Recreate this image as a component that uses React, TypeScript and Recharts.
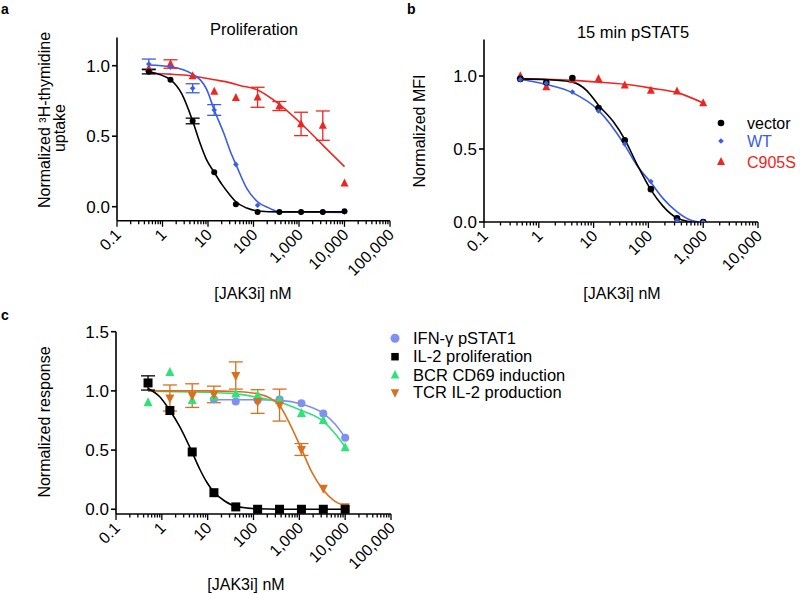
import React from 'react';
import { ComposedChart, Line, Scatter, XAxis, YAxis, ErrorBar } from 'recharts';

const FONT = '"Liberation Sans", Arial, Helvetica, sans-serif';

// ---------- Panel a: Proliferation ----------
const concA = [0.5, 1.5, 4.6, 13.7, 41, 123, 370, 1111, 3333, 10000];
const aVector = [0.957, 0.9, 0.608, 0.244, 0.017, -0.038, -0.038, -0.038, -0.038, -0.033];
const aVectorErr = [0.015, 0, 0.02, 0, 0, 0, 0, 0, 0, 0];
const aWT = [1.012, 0.99, 0.84, 0.686, 0.3, 0.01, -0.04, -0.04, -0.04, -0.037];
const aWTErr = [0.035, 0, 0.032, 0.038, 0, 0, 0, 0, 0, 0];
const aC905S = [0.98, 1.012, 0.927, 0.816, 0.773, 0.776, 0.714, 0.587, 0.575, 0.166];
const aC905SErr = [0, 0.03, 0, 0, 0, 0.071, 0.032, 0.083, 0.104, 0];

const aVectorFitX = [0.5, 1.5, 2.66, 4.6, 6.7, 9.4, 13.7, 20, 30, 41, 71, 123, 370, 10000];
const aVectorFitY = [0.957, 0.9, 0.8, 0.608, 0.45, 0.33, 0.244, 0.16, 0.085, 0.035, -0.01, -0.03, -0.037, -0.037];
const aWTFitX = [0.5, 1.5, 4.6, 9.4, 13.7, 21.7, 33, 41, 71, 123, 228, 370, 10000];
const aWTFitY = [1.005, 0.993, 0.94, 0.83, 0.686, 0.53, 0.37, 0.3, 0.13, 0.035, -0.012, -0.037, -0.04];
const aC905SFitX = [0.5, 1.5, 4.6, 13.7, 30, 50, 123, 370, 1111, 3333, 10000];
const aC905SFitY = [0.946, 0.94, 0.927, 0.9, 0.88, 0.86, 0.828, 0.726, 0.59, 0.437, 0.284];

// ---------- Panel b: 15 min pSTAT5 ----------
const concB = [0.46, 1.37, 4.1, 12.3, 37, 111, 333, 1000];
const bVector = [0.98, 0.955, 0.986, 0.78, 0.56, 0.225, 0.025, 0.0];
const bWT = [0.975, 0.95, 0.89, 0.76, 0.534, 0.277, 0.01, 0.0];
const bC905S = [1.0, 0.925, 0.975, 0.98, 0.936, 0.9, 0.895, 0.815];

const bVectorFitX = [0.46, 1.35, 4.1, 7.5, 12.3, 23, 37, 61, 111, 186, 333, 620];
const bVectorFitY = [0.98, 0.975, 0.958, 0.9, 0.8, 0.686, 0.566, 0.4, 0.22, 0.107, 0.027, 0.0];
const bWTFitX = [0.46, 1.35, 4.1, 12.3, 37, 61, 111, 186, 333, 620, 840];
const bWTFitY = [0.978, 0.943, 0.886, 0.765, 0.527, 0.39, 0.27, 0.16, 0.07, 0.01, 0.0];
const bC905SFitX = [0.46, 1.35, 4.1, 12.3, 37, 111, 333, 1000];
const bC905SFitY = [0.983, 0.978, 0.97, 0.958, 0.943, 0.917, 0.886, 0.815];

// ---------- Panel c: Normalized response ----------
const concC = [0.5, 1.5, 4.6, 13.7, 41, 123, 370, 1111, 3333, 10000];
const cIL2 = [1.067, 0.834, 0.484, 0.14, 0.02, 0.0, 0.0, 0.0, 0.0, 0.0];
const cIL2Err = [0.06, 0, 0, 0, 0, 0, 0, 0, 0, 0];
const cBCR = [0.9, 1.156, 0.92, 0.95, 0.975, 0.96, 0.92, 0.81, 0.75, 0.52];
const concIFN = [13.7, 41, 123, 370, 1111, 3333, 10000];
const cIFN = [0.93, 0.91, 0.92, 0.927, 0.896, 0.81, 0.605];
const concTCR = [1.5, 4.6, 13.7, 41, 123, 370, 1111, 3333, 10000];
const cTCR = [0.94, 0.96, 0.97, 1.13, 0.91, 0.88, 0.505, 0.176, 0.02];
const cTCRErr = [0.11, 0.1, 0.07, 0.115, 0.1, 0.135, 0.05, 0, 0];

const cIL2FitX = [0.5, 0.9, 1.5, 2.44, 4.6, 6.7, 9.5, 13.7, 23.5, 41, 116, 370, 10000];
const cIL2FitY = [1.02, 0.95, 0.834, 0.7, 0.48, 0.34, 0.23, 0.145, 0.07, 0.025, 0.004, 0.0, 0.0];
const cTCRFitX = [0.5, 10, 50, 123, 227, 370, 623, 1111, 1860, 3333, 5500, 10000];
const cTCRFitY = [1.0, 1.0, 0.993, 0.975, 0.94, 0.876, 0.72, 0.51, 0.316, 0.162, 0.078, 0.028];
const cBCRFitX = [0.5, 5, 41, 123, 370, 1111, 3333, 6000, 10000];
const cBCRFitY = [0.997, 0.99, 0.975, 0.946, 0.904, 0.834, 0.742, 0.64, 0.526];
const cIFNFitX = [13.7, 41, 123, 370, 1111, 3333, 6000, 10000];
const cIFNFitY = [0.925, 0.925, 0.925, 0.92, 0.89, 0.81, 0.72, 0.605];

// ---------- Axis ticks ----------
const xMajorA = [0.1, 1, 10, 100, 1000, 10000, 100000];
const xLabelsA = ['0.1', '1', '10', '100', '1,000', '10,000', '100,000'];
const xMajorB = [0.1, 1, 10, 100, 1000, 10000];
const xLabelsB = ['0.1', '1', '10', '100', '1,000', '10,000'];
const yTicksA = [0, 0.5, 1.0];
const yTicksB = [0, 0.5, 1.0];
const yTicksC = [0, 0.5, 1.0, 1.5];

const legendB = ['vector', 'WT', 'C905S'];
const legendC = ['IFN-γ pSTAT1', 'IL-2 proliferation', 'BCR CD69 induction', 'TCR IL-2 production'];

const RED = '#EE2622';
const BLUE = '#3A5CE8';
const LBLUE = '#7F90F0';
const GREEN = '#2FE27A';
const ORANGE = '#D8701E';

function zip(xs: number[], ys: number[], errs?: number[]) {
  return xs.map((x, i) => ({ x, y: ys[i], err: errs && errs[i] ? errs[i] : undefined }));
}

function withMinor(major: number[]) {
  const out: number[] = [];
  major.forEach((m, i) => {
    out.push(m);
    if (i < major.length - 1) {
      for (let k = 2; k <= 9; k++) out.push(+(m * k).toPrecision(6));
    }
  });
  return out;
}

function makeTick(majors: number[], labels: string[]) {
  return (props: any) => {
    const { x, y, payload } = props;
    const idx = majors.findIndex((m) => Math.abs(m - payload.value) < 1e-9 * Math.max(1, m));
    const major = idx >= 0;
    const ax = x + 5;
    const ay = y + 15;
    return (
      <g>
        <line x1={x} y1={y} x2={x} y2={y + (major ? 6 : 3.5)} stroke="#000" strokeWidth={1.3} />
        {major && (
          <text x={ax} y={ay} textAnchor="end" fontSize={16} fontFamily={FONT} fill="#000"
            transform={`rotate(-45 ${ax} ${ay})`}>{labels[idx]}</text>
        )}
      </g>
    );
  };
}

// ---------- Marker shapes ----------
const circle = (r: number, color: string) => (p: any) =>
  <circle cx={p.cx} cy={p.cy} r={r} fill={color} />;
const diamond = (s: number, color: string) => (p: any) =>
  <path d={`M${p.cx},${p.cy - s}L${p.cx + s},${p.cy}L${p.cx},${p.cy + s}L${p.cx - s},${p.cy}Z`} fill={color} />;
const triUp = (s: number, color: string) => (p: any) =>
  <path d={`M${p.cx},${p.cy - s * 0.6}L${p.cx + s / 2},${p.cy + s * 0.4}L${p.cx - s / 2},${p.cy + s * 0.4}Z`} fill={color} />;
const triDown = (s: number, color: string) => (p: any) =>
  <path d={`M${p.cx},${p.cy + s * 0.6}L${p.cx + s / 2},${p.cy - s * 0.4}L${p.cx - s / 2},${p.cy - s * 0.4}Z`} fill={color} />;
const square = (s: number, color: string) => (p: any) =>
  <rect x={p.cx - s / 2} y={p.cy - s / 2} width={s} height={s} fill={color} />;

const axisStyle = { stroke: '#000', strokeWidth: 1.6 };
const yTickStyle = { fill: '#000', fontSize: 17, fontFamily: FONT };

function fitLine(xs: number[], ys: number[], color: string) {
  return (
    <Line data={zip(xs, ys)} dataKey="y" type="monotone" dot={false} stroke={color}
      strokeWidth={1.6} isAnimationActive={false} />
  );
}

function points(xs: number[], ys: number[], errs: number[] | undefined, shape: any, color: string) {
  return (
    <Scatter data={zip(xs, ys, errs)} dataKey="y" shape={shape} fill={color} isAnimationActive={false}>
      {errs && <ErrorBar dataKey="err" direction="y" width={7} stroke={color} strokeWidth={1.3} />}
    </Scatter>
  );
}

function PanelA() {
  return (
    <ComposedChart width={400} height={300} margin={{ top: 37.5, right: 10, bottom: 19.2, left: 57 }}>
      <XAxis dataKey="x" type="number" scale="log" domain={[0.1, 100000]} ticks={withMinor(xMajorA)}
        interval={0} tickLine={false} tickSize={0} tickMargin={0} tick={makeTick(xMajorA, xLabelsA)}
        axisLine={axisStyle} height={60} allowDataOverflow />
      <YAxis type="number" domain={[-0.1, 1.2]} ticks={yTicksA} tickFormatter={(v: number) => v.toFixed(1)}
        axisLine={axisStyle} tickLine={axisStyle} tickSize={5} tickMargin={2} tick={yTickStyle} width={60}
        allowDataOverflow />
      {fitLine(aC905SFitX, aC905SFitY, RED)}
      {fitLine(aWTFitX, aWTFitY, BLUE)}
      {fitLine(aVectorFitX, aVectorFitY, '#000')}
      {points(concA, aC905S, aC905SErr, triUp(8, RED), RED)}
      {points(concA, aWT, aWTErr, diamond(2.8, BLUE), BLUE)}
      {points(concA, aVector, aVectorErr, circle(3, '#000'), '#000')}
    </ComposedChart>
  );
}

function PanelB() {
  return (
    <ComposedChart width={400} height={300} margin={{ top: 39.5, right: 42, bottom: 18, left: 24 }}>
      <XAxis dataKey="x" type="number" scale="log" domain={[0.1, 10000]} ticks={withMinor(xMajorB)}
        interval={0} tickLine={false} tickSize={0} tickMargin={0} tick={makeTick(xMajorB, xLabelsB)}
        axisLine={axisStyle} height={60} allowDataOverflow />
      <YAxis type="number" domain={[0, 1.25]} ticks={yTicksB} tickFormatter={(v: number) => v.toFixed(1)}
        axisLine={axisStyle} tickLine={axisStyle} tickSize={5} tickMargin={2} tick={yTickStyle} width={60}
        allowDataOverflow />
      {fitLine(bC905SFitX, bC905SFitY, RED)}
      {fitLine(bWTFitX, bWTFitY, BLUE)}
      {fitLine(bVectorFitX, bVectorFitY, '#000')}
      {points(concB, bC905S, undefined, triUp(8, RED), RED)}
      {points(concB, bVector, undefined, circle(3.3, '#000'), '#000')}
      {points(concB, bWT, undefined, diamond(2.8, BLUE), BLUE)}
    </ComposedChart>
  );
}

function PanelC() {
  return (
    <ComposedChart width={400} height={294} margin={{ top: 31.7, right: 9, bottom: 20, left: 56 }}>
      <XAxis dataKey="x" type="number" scale="log" domain={[0.1, 100000]} ticks={withMinor(xMajorA)}
        interval={0} tickLine={false} tickSize={0} tickMargin={0} tick={makeTick(xMajorA, xLabelsA)}
        axisLine={axisStyle} height={60} allowDataOverflow />
      <YAxis type="number" domain={[-0.04, 1.5]} ticks={yTicksC} tickFormatter={(v: number) => v.toFixed(1)}
        axisLine={axisStyle} tickLine={axisStyle} tickSize={5} tickMargin={2} tick={yTickStyle} width={60}
        allowDataOverflow />
      {fitLine(cIFNFitX, cIFNFitY, LBLUE)}
      {fitLine(cBCRFitX, cBCRFitY, GREEN)}
      {fitLine(cTCRFitX, cTCRFitY, ORANGE)}
      {fitLine(cIL2FitX, cIL2FitY, '#000')}
      {points(concIFN, cIFN, undefined, circle(4, LBLUE), LBLUE)}
      {points(concC, cBCR, undefined, triUp(9, GREEN), GREEN)}
      {points(concTCR, cTCR, cTCRErr, triDown(9, ORANGE), ORANGE)}
      {points(concC, cIL2, cIL2Err, square(9, '#000'), '#000')}
    </ComposedChart>
  );
}

function Overlay() {
  const t = { fontFamily: FONT, fill: '#000' } as any;
  const bColors = ['#000', BLUE, RED];
  const bShapes = [circle(3.3, '#000'), diamond(2.8, BLUE), triUp(8, RED)];
  const bY = [123, 141, 161.7];
  const cShapes = [circle(4.5, LBLUE), square(7.5, '#000'), triUp(8.5, GREEN), triDown(8.5, ORANGE)];
  const cY = [338.3, 356.7, 375, 392.7];
  return (
    <svg width={800} height={594} style={{ position: 'absolute', left: 0, top: 0, pointerEvents: 'none' }}>
      <text x={1} y={14} fontSize={14} fontWeight="bold" {...t}>a</text>
      <text x={407} y={14} fontSize={14} fontWeight="bold" {...t}>b</text>
      <text x={1} y={320} fontSize={14} fontWeight="bold" {...t}>c</text>

      <text x={254} y={35} fontSize={16.5} textAnchor="middle" {...t}>Proliferation</text>
      <text x={633} y={38} fontSize={16.5} textAnchor="middle" {...t}>15 min pSTAT5</text>

      <text x={50} y={120} fontSize={16} textAnchor="middle" transform="rotate(-90 50 120)" {...t}>Normalized ³H-thymidine</text>
      <text x={65} y={128} fontSize={16} textAnchor="middle" transform="rotate(-90 65 128)" {...t}>uptake</text>
      <text x={425} y={131} fontSize={16} textAnchor="middle" transform="rotate(-90 425 131)" {...t}>Normalized MFI</text>
      <text x={50} y={422} fontSize={16} textAnchor="middle" transform="rotate(-90 50 422)" {...t}>Normalized response</text>

      <text x={253} y={299} fontSize={16} textAnchor="middle" {...t}>[JAK3i] nM</text>
      <text x={622} y={299} fontSize={16} textAnchor="middle" {...t}>[JAK3i] nM</text>
      <text x={246} y={590} fontSize={16} textAnchor="middle" {...t}>[JAK3i] nM</text>

      {legendB.map((name, i) => (
        <g key={name}>
          {bShapes[i]({ cx: 721, cy: bY[i] })}
          <text x={747} y={bY[i] + 6} fontSize={16} fontFamily={FONT} fill={bColors[i]}>{name}</text>
        </g>
      ))}
      {legendC.map((name, i) => (
        <g key={name}>
          {cShapes[i]({ cx: 395, cy: cY[i] })}
          <text x={413} y={cY[i] + 5.5} fontSize={16.5} fontFamily={FONT} fill="#000">{name}</text>
        </g>
      ))}
    </svg>
  );
}

export default function App() {
  return (
    <div style={{ position: 'absolute', left: 0, top: 0, width: 800, height: 594, background: '#fff', overflow: 'hidden' }}>
      <div style={{ position: 'absolute', left: 0, top: 0 }}><PanelA /></div>
      <div style={{ position: 'absolute', left: 400, top: 0 }}><PanelB /></div>
      <div style={{ position: 'absolute', left: 0, top: 300 }}><PanelC /></div>
      <Overlay />
    </div>
  );
}
